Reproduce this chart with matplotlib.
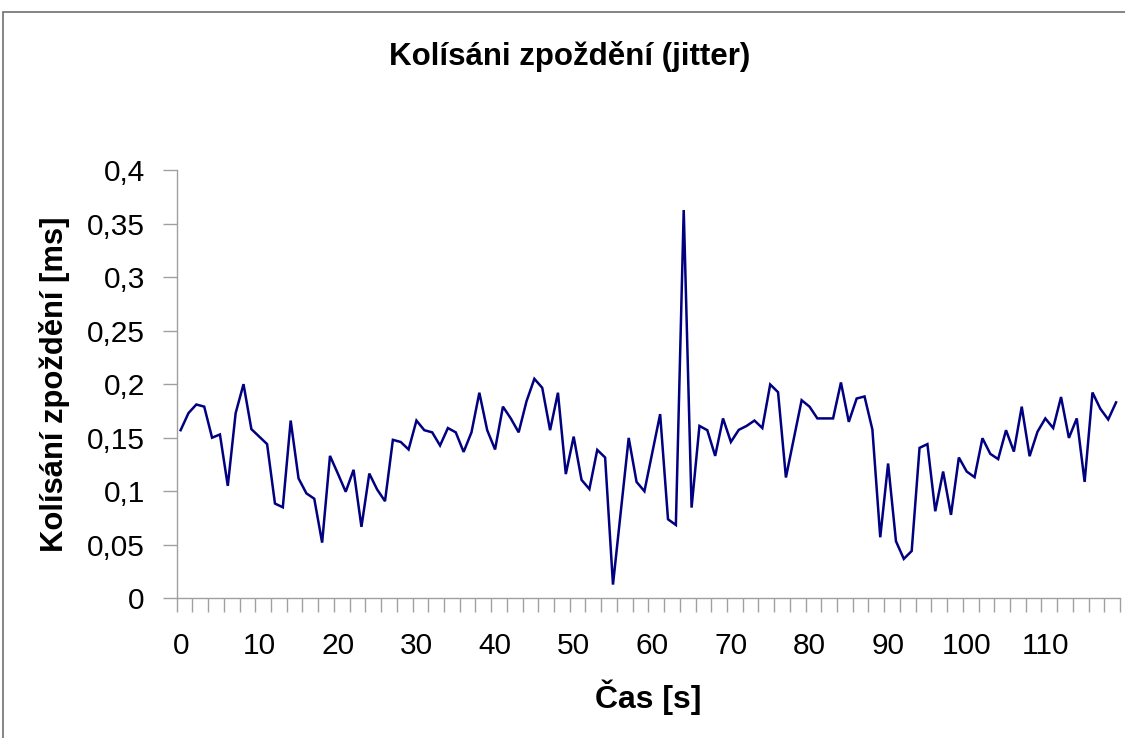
import matplotlib
matplotlib.use("Agg")
import matplotlib.pyplot as plt
from matplotlib.patches import Rectangle
from matplotlib.ticker import FixedLocator, FuncFormatter

plt.rcParams['font.family'] = ['Liberation Sans', 'DejaVu Sans']

title = "Kolísáni zpoždění (jitter)"
xlabel = "Čas [s]"
ylabel = "Kolísání zpoždění [ms]"

jitter = [
    0.157, 0.173, 0.181, 0.179, 0.150, 0.153, 0.105, 0.173, 0.200, 0.158,
    0.151, 0.144, 0.0885, 0.085, 0.166, 0.112, 0.098, 0.093, 0.052, 0.133,
    0.1165, 0.0995, 0.120, 0.0667, 0.1165, 0.1016, 0.0907, 0.148, 0.146, 0.139,
    0.166, 0.157, 0.155, 0.1427, 0.159, 0.155, 0.1367, 0.155, 0.192, 0.157,
    0.139, 0.179, 0.168, 0.155, 0.184, 0.205, 0.1966, 0.157, 0.192, 0.116,
    0.151, 0.1106, 0.102, 0.1386, 0.1315, 0.0128, 0.0813, 0.1498, 0.1087, 0.100,
    0.136, 0.172, 0.0738, 0.0685, 0.3626, 0.0847, 0.161, 0.157, 0.133, 0.168,
    0.146, 0.1573, 0.161, 0.166, 0.159, 0.1997, 0.1925, 0.1128, 0.149, 0.185,
    0.179, 0.168, 0.168, 0.168, 0.2016, 0.1648, 0.1866, 0.1885, 0.1576, 0.057,
    0.1259, 0.0533, 0.0368, 0.0442, 0.1405, 0.144, 0.0813, 0.1184, 0.0779, 0.1315,
    0.1184, 0.1131, 0.1495, 0.1349, 0.130, 0.157, 0.137, 0.179, 0.1327, 0.1555,
    0.168, 0.159, 0.188, 0.1498, 0.168, 0.1087, 0.1922, 0.177, 0.167, 0.183,
]
time_s = list(range(len(jitter)))
x_labels = list(range(0, 120, 10))
y_ticks = [0, 0.05, 0.1, 0.15, 0.2, 0.25, 0.3, 0.35, 0.4]

W, H = 1125, 738
fig = plt.figure(figsize=(W / 100, H / 100), dpi=100)
fig.patch.set_facecolor('white')

# outer chart border (left and top visible)
fig.patches.append(Rectangle((3 / W, -0.05), 1.2, (H - 12) / H + 0.05,
                             transform=fig.transFigure, fill=False,
                             edgecolor='#707070', linewidth=1.2))

left, right = 176.7 / W, 1120 / W
bottom, top = (H - 598.3) / H, (H - 170) / H
ax = fig.add_axes([left, bottom, right - left, top - bottom])

ax.plot(time_s, jitter, color='#000080', linewidth=1.8, solid_joinstyle='miter')

ax.set_xlim(-0.5, len(jitter) - 0.5)
ax.set_ylim(0, 0.4)

for s in ['top', 'right']:
    ax.spines[s].set_visible(False)
for s in ['left', 'bottom']:
    ax.spines[s].set_color('#a0a0a0')
    ax.spines[s].set_linewidth(1.0)

ax.set_yticks(y_ticks)
ax.yaxis.set_major_formatter(FuncFormatter(lambda v, p: ('%g' % v).replace('.', ',')))
ax.tick_params(axis='y', length=10, width=1, color='#a0a0a0', pad=13,
               labelsize=21.5, labelcolor='black')

ax.set_xticks(x_labels)
ax.set_xticklabels([str(v) for v in x_labels])
ax.xaxis.set_minor_locator(FixedLocator([-0.5 + 2 * k for k in range(61)]))
ax.tick_params(axis='x', which='major', length=0, pad=24, labelsize=21.5,
               labelcolor='black')
ax.tick_params(axis='x', which='minor', length=10, width=1, color='#a0a0a0')

fig.text(570 / W, 1 - 57 / H, title, ha='center', va='center',
         fontsize=22.5, fontweight='bold')
fig.text(648 / W, 1 - 697 / H, xlabel, ha='center', va='center',
         fontsize=23, fontweight='bold')
fig.text(55 / W, 1 - 384 / H, ylabel, ha='center', va='center',
         rotation=90, fontsize=22.3, fontweight='bold')

fig.savefig('out.png', dpi=100, facecolor='white')
